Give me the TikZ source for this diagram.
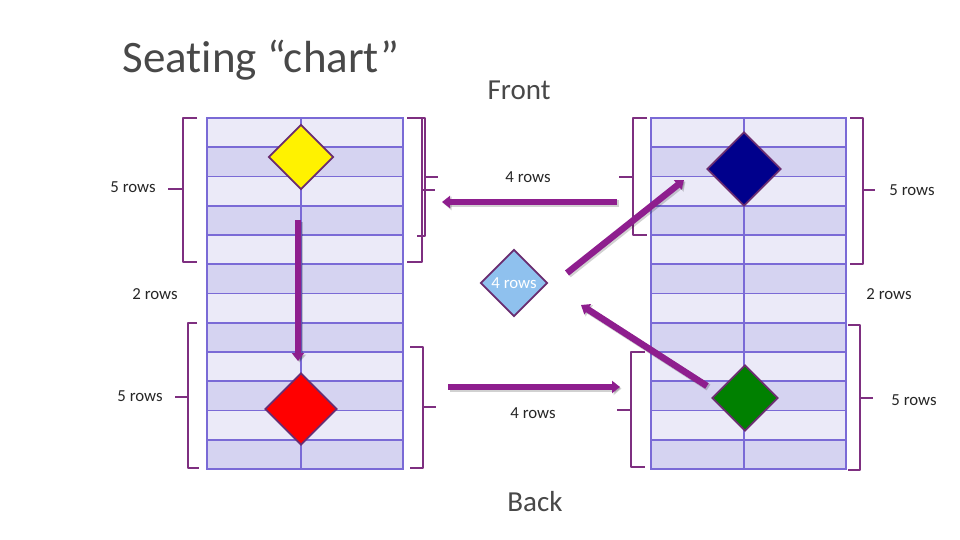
\documentclass[tikz,border=0pt]{standalone}
\usepackage{fontspec}
\setmainfont{Carlito}[Ligatures={NoCommon,NoContextual}, RawFeature={-liga;-clig;-calt}]
\usetikzlibrary{arrows.meta,shapes.geometric}
\definecolor{rowA}{HTML}{EBEAF8}
\definecolor{rowB}{HTML}{D5D3F1}
\definecolor{gridc}{HTML}{7A6AD6}
\definecolor{brkc}{HTML}{7E2F80}
\definecolor{arrc}{HTML}{8E1E8E}
\definecolor{dedge}{HTML}{6A2C70}
\definecolor{titlec}{HTML}{484848}
\begin{document}
\begin{tikzpicture}[x=1pt,y=-1pt,
  lbl/.style={font=\fontsize{16.8}{18}\selectfont, text=black!85, inner sep=0pt},
  ttl/.style={font=\fontsize{#1}{#1}\selectfont, text=titlec, inner sep=0pt},
  dia/.style={diamond, draw=dedge, line width=1.8pt, inner sep=0pt, minimum size=#1},
  brkt/.style={draw=brkc, line width=1.8pt, line join=round},
  bigarrow/.style={draw=arrc, line width=6.5pt, -{Triangle[width=12pt,length=8pt]}},
  shadowarrow/.style={draw=black, opacity=0.18, line width=7pt, -{Triangle[width=13pt,length=8pt]}},
]
\useasboundingbox[fill=white] (0,0) rectangle (960,540);

% tables
\foreach \x/\m/\r in {207/301/403, 651/744/846}{
  \foreach \i in {0,...,11}{
    \pgfmathsetmacro{\ya}{118+\i*29.25}
    \pgfmathsetmacro{\yb}{118+(\i+1)*29.25}
    \pgfmathparse{mod(\i,2)==0 ? 1 : 0}
    \ifnum\pgfmathresult=1
      \fill[rowA] (\x,\ya) rectangle (\r,\yb);
    \else
      \fill[rowB] (\x,\ya) rectangle (\r,\yb);
    \fi
  }
  \foreach \i in {1,...,11}{
    \draw[gridc, line width=1.7pt] (\x,118+\i*29.25) -- (\r,118+\i*29.25);
  }
  \draw[gridc, line width=1.7pt] (\m,118) -- (\m,469);
  \draw[gridc, line width=1.9pt] (\x,118) rectangle (\r,469);
}

% brackets (left table)
\draw[brkt] (197,118) -- (183,118) -- (183,262) -- (197,262) (183,189) -- (168,189);
\draw[brkt] (197,323) -- (188,323) -- (188,468) -- (199,468) (188,397) -- (175,397);
\draw[brkt] (407,118) -- (425,118) -- (425,236) -- (417,236) (425,177) -- (438,177);
\draw[brkt] (407,118) -- (422,118) -- (422,262) -- (407,262) (422,190) -- (435,190);
\draw[brkt] (410,347) -- (423,347) -- (423,468) -- (410,468) (423,407) -- (436,407);
% brackets (right table)
\draw[brkt] (647,118) -- (633,118) -- (633,235) -- (647,235) (633,177) -- (619,177);
\draw[brkt] (645,352) -- (631,352) -- (631,467) -- (645,467) (631,410) -- (617,410);
\draw[brkt] (850,118) -- (863,118) -- (863,264) -- (850,264) (863,190) -- (875,190);
\draw[brkt] (848,325) -- (860,325) -- (860,470) -- (848,470) (860,398) -- (873,398);

% labels
\node[lbl] (l1) at (133,187) {5 rows};
\node[lbl] (l2) at (155,294) {2 rows};
\node[lbl] (l3) at (140,396) {5 rows};
\node[lbl] (l4) at (528,177) {4 rows};
\node[lbl] (l5) at (533,413) {4 rows};
\node[lbl] (l6) at (912,190) {5 rows};
\node[lbl] (l7) at (889,294) {2 rows};
\node[lbl] (l8) at (914,400) {5 rows};

% titles
\node[ttl=45] (title) at (261,60) {Seating “chart”};
\node[ttl=29] (front) at (519,90) {Front};
\node[ttl=29] (back) at (535,502) {Back};

% diamonds
\node[dia=65, fill=yellow] (yel) at (301,157) {};
\node[dia=72, fill=red] (red) at (301,409) {};
\node[dia=74, fill={rgb,255:red,0;green,0;blue,140}] (navy) at (744,169) {};
\node[dia=66, fill={rgb,255:red,0;green,128;blue,0}] (grn) at (745,398) {};
\node[dia=67, fill={rgb,255:red,143;green,193;blue,238}, text=white, font=\fontsize{16.8}{18}\selectfont] (lb) at (514,283) {4 rows};

% arrow ends
\coordinate (a1s) at (298,220); \coordinate (a1e) at (298,361);
\coordinate (a2s) at (617,202); \coordinate (a2e) at (442,202);
\coordinate (a3s) at (567,273); \coordinate (a3e) at (684,180);
\coordinate (a4s) at (707,386); \coordinate (a4e) at (581,305);
\coordinate (a5s) at (448,387); \coordinate (a5e) at (620,387);

\foreach \s/\e in {a1s/a1e, a2s/a2e, a3s/a3e, a4s/a4e, a5s/a5e}{
  \draw[shadowarrow, transform canvas={shift={(1.5pt,-1.5pt)}}] (\s) -- (\e);
}
\draw[bigarrow] (a1s) -- (a1e);
\draw[bigarrow] (a2s) -- (a2e);
\draw[bigarrow] (a3s) -- (a3e);
\draw[bigarrow] (a4s) -- (a4e);
\draw[bigarrow] (a5s) -- (a5e);
\end{tikzpicture}
\end{document}
